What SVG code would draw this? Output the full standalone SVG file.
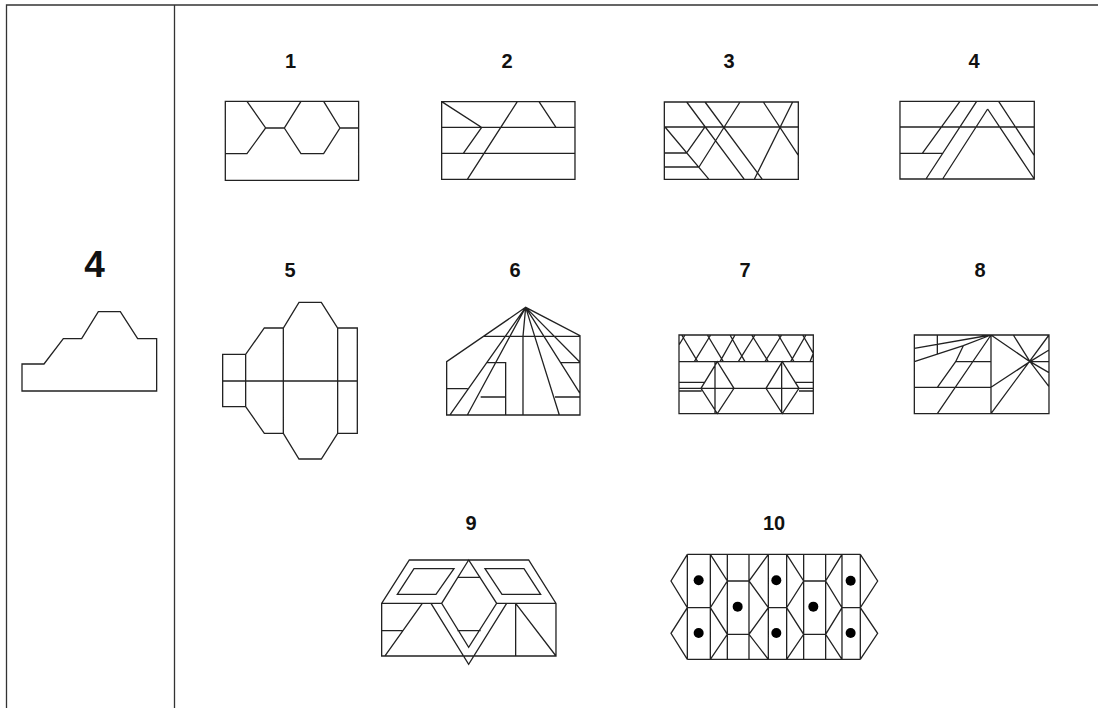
<svg xmlns="http://www.w3.org/2000/svg" width="1098" height="710" viewBox="0 0 1098 710">
<style>
.l{font-family:"Liberation Sans",Arial,sans-serif;font-weight:bold;font-size:20px;fill:#111;text-anchor:middle}
.b{font-size:37px}
.s{fill:none;stroke:#222;stroke-width:3.9;stroke-linejoin:miter}
.d{fill:#000;stroke:none}
.f{fill:none;stroke:#333;stroke-width:1.3}
</style>
<rect width="1098" height="710" fill="#fff"/>
<g id="frame" class="f"><path d="M6.5 708V5H1098M174.500 5V708"/></g>
<g id="labels">
<text class="l b" x="94.500" y="277">4</text>
<text class="l" x="290.500" y="68">1</text><text class="l" x="507" y="68">2</text><text class="l" x="729" y="68">3</text><text class="l" x="974" y="68">4</text>
<text class="l" x="290" y="277">5</text><text class="l" x="515" y="277">6</text><text class="l" x="745" y="277">7</text><text class="l" x="980" y="277">8</text>
<text class="l" x="471" y="530">9</text><text class="l" x="774" y="530">10</text>
</g>
<g id="target" class="s" transform="translate(0 240) scale(.3333)"><path d="M66 372H132L190 296H245L295 215H361L413 296H470V453H66Z"/></g>
<g id="fig1" class="s" transform="translate(0 0) scale(.3333)"><path d="M676 304H1076V541H676ZM741 304L797 384L741 461H676M797 384H853L903 304M853 384L903 461H971L1020 384L971 304M1020 384H1076"/></g>
<g id="fig2" class="s" transform="translate(430 90) scale(.3333)"><path d="M35 35H435V268H35ZM35 112H435M35 190H435M35 35L155 112L100 190M262 35L112 268M327 35L378 112"/></g>
<g id="fig3" class="s" transform="translate(655 92) scale(.3333)"><path d="M28 30H430V262H28ZM28 105H430M95 30L268 262M150 30L322 262M255 30L132 225M325 30L430 190M413 30L298 262M30 105L162 262M150 105L95 183M28 183H95M28 225H132"/></g>
<g id="fig4" class="s" transform="translate(640 40) scale(.3333)"><path d="M780 184H1183V417H780ZM780 261H1183M960 184L847 340M780 340H910M1010 184L858 417M1043 207L908 417M1043 207L1183 417M1076 184L1183 347"/></g>
<g id="fig5" class="s" transform="translate(200 290) scale(.3333)"><path d="M68 193H137L193 114H250L297 37H364L413 114H472V430H413L364 507H297L250 430H193L137 350H68ZM137 193V350M250 114V430M413 114V430M68 273H472"/></g>
<g id="fig6" class="s" transform="translate(435 300) scale(.3333)"><path d="M35 345V185L272 22L435 107V345ZM147 109H435M272 22L45 345M272 22L97 345M272 22L264 109V345M272 22L373 345M272 22L435 280M272 22L435 187M155 188H212V345M137 291H212M35 266H98M378 188H435M360 291H435"/></g>
<g id="fig7" class="s" transform="translate(660 320) scale(.3333)"><path d="M57 45H460V281H57ZM57 125H460M57 75L75 45M65 45L113 125M103 125L152 45M142 45L190 125M180 125L225 45M210 45L255 125M235 125L285 45M275 45L325 125M315 125L365 45M355 45L402 125M392 125L438 45M428 45L460 100L450 125M172 125L123 205L172 281L222 205ZM165 125V281M367 125L318 205L367 281L417 205ZM365 125V281M57 205H460M57 187H135M57 213H125M407 187H460M417 213H460"/></g>
<g id="fig8" class="s" transform="translate(905 325) scale(.3333)"><path d="M28 30H432V266H28ZM258 30V266M28 187H258M152 110H258M375 110H432M28 70L258 30M28 110L175 62L258 30M97 30V88M175 62L152 110L97 187M258 30L97 266M258 30L375 110L432 185M325 30L375 110M432 30L258 266M258 187L375 110M432 75L375 110M432 143L375 110"/></g>
<g id="fig9" class="s" transform="translate(370 540) scale(.3333)"><path d="M35 190L118 60H476L558 190V348H35ZM35 190H215M380 190H558M296 60L215 190L296 322L380 190ZM183 190L296 373L410 190M262 112H332M262 272H332M132 86H252L198 163H82ZM345 86H462L512 163H396ZM157 190L45 348M35 272H100M437 190V348M437 190L558 348"/></g>
<g id="fig10" transform="translate(660 540) scale(.3333)">
<path class="s" d="M82 43H601M82 358H601M82 43V358M151 43V358M202 43V358M267 43V358M325 43V358M380 43V358M431 43V358M497 43V358M546 43V358M601 43V358M82 43L33 123L82 203L33 280L82 358M601 43L653 123L601 203L653 280L601 358M82 203H151M151 43L202 123L151 203L202 283L151 358M202 123H267M202 283H267M325 43L267 123L325 203L267 283L325 358M325 203H380M380 43L431 123L380 203L431 283L380 358M431 123H497M431 283H497M546 43L497 123L546 203L497 283L546 358M546 203H601"/>
<g class="d"><circle cx="116" cy="121" r="15"/><circle cx="233" cy="200" r="15"/><circle cx="349" cy="121" r="15"/><circle cx="460" cy="200" r="15"/><circle cx="572" cy="122" r="15"/><circle cx="116" cy="279" r="15"/><circle cx="349" cy="279" r="15"/><circle cx="572" cy="279" r="15"/></g>
</g>
</svg>
